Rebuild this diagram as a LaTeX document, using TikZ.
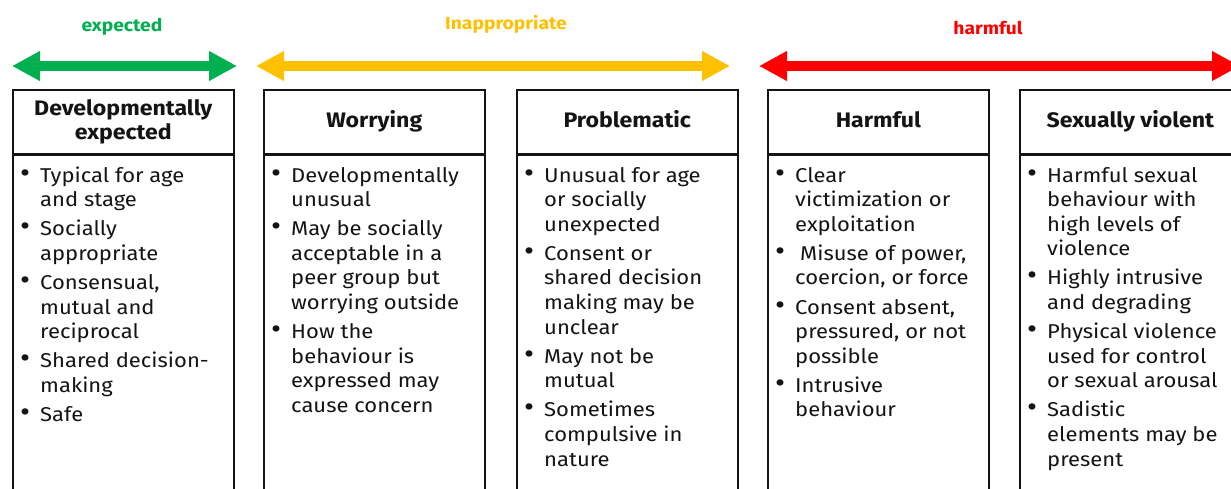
\documentclass[tikz,border=0pt]{standalone}
\usepackage{fontspec}
\usepackage{graphicx}
\setmainfont{Fira Sans}[BoldFont={* Bold}, FakeStretch=1.1]
\usetikzlibrary{arrows.meta}
\definecolor{okgreen}{HTML}{00B050}
\definecolor{amber}{HTML}{FFC000}
\definecolor{alert}{HTML}{FF0000}
\definecolor{ink}{HTML}{141414}

% hanging bullet and the extra space between two items
\newcommand{\bul}{\leavevmode\llap{\scalebox{1.4}{\textbullet}\hspace{10pt}}}
\newcommand{\gap}{\\[4.5pt]\bul}

\begin{document}
\begin{tikzpicture}[x=1pt,y=-1pt,
  head/.style={draw=ink, line width=1.6pt, minimum width=221pt, minimum height=64pt,
    inner sep=0pt, anchor=north west, align=center, text=ink,
    text height=16pt, text depth=4.5pt,
    font=\fontsize{21}{23.5}\selectfont\bfseries},
  bodybox/.style={draw=ink, line width=1.6pt, minimum width=221pt, minimum height=380pt,
    inner sep=0pt, anchor=north west},
  bodytext/.style={anchor=base west, inner sep=0pt, text=ink,
    font=\fontsize{20}{24.6}\selectfont},
  band/.style={line width=10pt,
    {Triangle[length=28pt,width=28pt]}-{Triangle[length=28pt,width=28pt]}},
  bandlabel/.style={anchor=base, inner sep=0pt, font=\fontsize{17.5}{20}\selectfont\bfseries}
]
\useasboundingbox (0,0) rectangle (1231,488);
\clip (0,0) rectangle (1231,488);
\fill[white] (0,0) rectangle (1231,488);

% severity bands
\coordinate (g1) at (12,66);   \coordinate (g2) at (237,66);
\coordinate (y1) at (256,66);  \coordinate (y2) at (730,66);
\coordinate (r1) at (759,66);  \coordinate (r2) at (1240,66);
\draw[band, okgreen] (g1) -- (g2);
\draw[band, amber] (y1) -- (y2);
\draw[band, alert] (r1) -- (r2);
\node[bandlabel, text=okgreen] (lg) at (122,31) {expected};
\node[bandlabel, text=amber] (ly) at (506,29.5) {Inappropriate};
\node[bandlabel, text=alert] (lr) at (988,34) {harmful};

% category columns
\node[head, text height=, text depth=, font=\fontsize{21}{23.5}\selectfont\bfseries]
  (h1) at (12,89) {Developmentally\\expected};
\node[head] (h2) at (263,89)  {Worrying};
\node[head] (h3) at (516,89)  {Problematic};
\node[head] (h4) at (767,89)  {Harmful};
\node[head] (h5) at (1019,89) {Sexually violent};
\foreach \i in {1,...,5}
  \node[bodybox] (b\i) at (h\i.south west) {};

\node[bodytext] (t1) at (40,182) {\parbox[t]{260pt}{\raggedright
  \bul Typical for age\\and stage
  \gap Socially\\appropriate
  \gap Consensual,\\mutual and\\reciprocal
  \gap Shared decision-\\making
  \gap Safe}};
\node[bodytext] (t2) at (291,182) {\parbox[t]{260pt}{\raggedright
  \bul Developmentally\\unusual
  \gap May be socially\\acceptable in a\\peer group but\\worrying outside
  \gap How the\\behaviour is\\expressed may\\cause concern}};
\node[bodytext] (t3) at (544,182) {\parbox[t]{260pt}{\raggedright
  \bul Unusual for age\\or socially\\unexpected
  \gap Consent or\\shared decision\\making may be\\unclear
  \gap May not be\\mutual
  \gap Sometimes\\compulsive in\\nature}};
\node[bodytext] (t4) at (795,182) {\parbox[t]{260pt}{\raggedright
  \bul Clear\\victimization or\\exploitation
  \gap\hspace{5pt}Misuse of power,\\coercion, or force
  \gap Consent absent,\\pressured, or not\\possible
  \gap Intrusive\\behaviour}};
\node[bodytext] (t5) at (1047,182) {\parbox[t]{260pt}{\raggedright
  \bul Harmful sexual\\behaviour with\\high levels of\\violence
  \gap Highly intrusive\\and degrading
  \gap Physical violence\\used for control\\or sexual arousal
  \gap Sadistic\\elements may be\\present}};
\end{tikzpicture}
\end{document}
